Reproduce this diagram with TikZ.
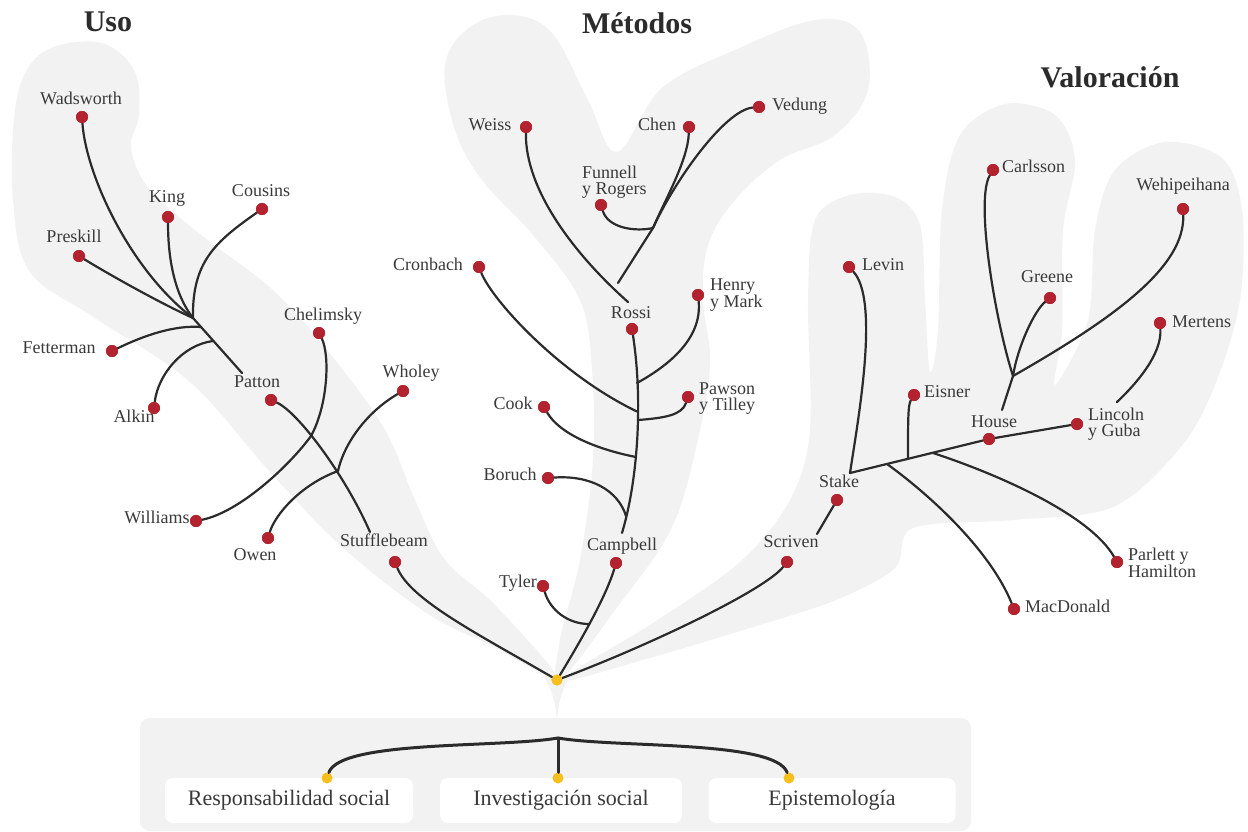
\documentclass[tikz,border=0pt]{standalone}
\usepackage{fontspec}
\setmainfont{Liberation Serif}
\definecolor{blobgray}{HTML}{F2F2F2}
\definecolor{ink}{HTML}{3A3A3A}
\definecolor{stem}{HTML}{2B2B2B}
\definecolor{berry}{HTML}{B3232F}
\definecolor{gold}{HTML}{F5C01E}
\newcommand\labf{\fontsize{18}{16}\selectfont}
\newcommand\basef{\fontsize{22}{24}\selectfont}
\newcommand\headf{\fontsize{30}{32}\selectfont\bfseries}
\begin{document}
\begin{tikzpicture}[x=1pt,y=-1pt,
  branch/.style={draw=stem, line width=2.2pt, line cap=round, line join=round},
  brace/.style={draw=stem, line width=3pt, line cap=round},
  leaf/.style={circle, fill=berry, inner sep=0pt, minimum size=12pt},
  seed/.style={circle, fill=gold, inner sep=0pt, minimum size=11pt},
  lab/.style={font=\labf, text=ink, inner sep=0pt, text height=1.5ex, text depth=.25ex},
  lab2/.style={font=\labf, text=ink, inner sep=0pt, align=left},
  head/.style={font=\headf, text=stem, inner sep=0pt},
  basebox/.style={fill=white, rounded corners=8pt, minimum height=45pt, font=\basef, text=ink, inner sep=0pt}
]
\useasboundingbox (0,0) rectangle (1248,832);
\fill[white] (0,0) rectangle (1248,832);

% ---------- background shapes ----------
% Uso
\fill[blobgray] plot[smooth cycle, tension=0.6] coordinates {
  (60,45) (105,44) (135,72) (139,115) (131,148) (150,190) (205,238) (275,292)
  (335,360) (385,430) (415,500) (445,560) (495,605) (557,678)
  (490,645) (425,612) (340,545) (270,472) (190,382) (95,318) (30,272)
  (13,200) (15,110) (30,65)};
% Metodos
\fill[blobgray] plot[smooth cycle, tension=0.6] coordinates {
  (445,65) (470,27) (512,15) (552,33) (588,100) (617,152) (662,88) (735,50)
  (815,20) (860,32) (868,90) (835,135) (780,160) (735,200) (708,245) (703,300)
  (710,360) (700,430) (672,527) (615,610) (560,680) (560,640) (580,560)
  (593,460) (592,370) (580,300) (533,235) (482,180) (455,130)};
% Valoracion
\fill[blobgray] plot[smooth cycle, tension=0.55] coordinates {
  (562,680) (653,623) (740,562) (790,500) (810,430) (808,300) (815,220)
  (850,195) (895,197) (920,225) (925,300) (930,372) (938,330) (942,210)
  (960,135) (1005,104) (1055,115) (1075,160) (1063,230) (1062,330) (1055,385)
  (1088,320) (1095,230) (1115,170) (1165,142) (1222,158) (1242,210) (1240,300)
  (1215,385) (1180,448) (1113,507) (1013,520) (913,528) (895,568) (836,600)
  (753,627) (653,657)};
% stem into the base panel
\fill[blobgray] (543,676) .. controls (553,690) and (556,705) .. (557,722)
  .. controls (558,705) and (561,690) .. (571,676) -- cycle;
% base panel
\fill[blobgray, rounded corners=10pt] (140,718) rectangle (971,831);

% ---------- base ----------
\node[basebox, minimum width=248pt] (rs) at (289,800.5) {Responsabilidad social};
\node[basebox, minimum width=242pt] (is) at (561,800.5) {Investigación social};
\node[basebox, minimum width=247pt] (ep) at (832,800.5) {Epistemología};
\coordinate (bt) at (558,738);
\node[seed] (yd1) at (327,778) {};
\node[seed] (yd2) at (558,778) {};
\node[seed] (yd3) at (789,778) {};
\draw[brace] (bt) .. controls (500,748) and (340,740) .. (yd1);
\draw[brace] (bt) .. controls (616,748) and (776,740) .. (yd3);
\draw[brace] (bt) -- (yd2);

% ---------- nodes ----------
\node[seed] (root) at (557,680) {};

% Uso
\node[leaf] (wads) at (82,117) {};
\node[leaf] (king) at (168,217) {};
\node[leaf] (cous) at (262,209) {};
\node[leaf] (pres) at (79,256) {};
\node[leaf] (fett) at (112,351) {};
\node[leaf] (alk) at (154,408) {};
\node[leaf] (chel) at (319,333) {};
\node[leaf] (pat) at (271,400) {};
\node[leaf] (who) at (403,391) {};
\node[leaf] (will) at (196,521) {};
\node[leaf] (owen) at (268,538) {};
\node[leaf] (stuf) at (395,562) {};
\coordinate (j1) at (193,318);
\coordinate (uEnd) at (242,373);
\coordinate (j2) at (201,327);
\coordinate (j3) at (213,341);
\coordinate (cw) at (311,436);
\coordinate (pEnd) at (370,532);
\coordinate (wj) at (338,471);

% Metodos
\node[leaf] (weiss) at (526,127) {};
\node[leaf] (chen) at (689,127) {};
\node[leaf] (ved) at (759,107) {};
\node[leaf] (fun) at (601,205) {};
\node[leaf] (cron) at (479,267) {};
\node[leaf] (henry) at (698,295) {};
\node[leaf] (rossi) at (632,329) {};
\node[leaf] (paw) at (688,397) {};
\node[leaf] (cook) at (544,407) {};
\node[leaf] (bor) at (548,478) {};
\node[leaf] (camp) at (616,563) {};
\node[leaf] (tyl) at (543,586) {};
\coordinate (wEnd) at (628,302);
\coordinate (fj) at (653,228);
\coordinate (cEnd) at (618,283);
\coordinate (mEnd) at (622,533);
\coordinate (hj) at (637,383);
\coordinate (cj) at (638,412);
\coordinate (pj) at (638,420);
\coordinate (kj) at (636,457);
\coordinate (bj) at (626,516);
\coordinate (tj) at (589,624);

% Valoracion
\node[leaf] (levin) at (849,267) {};
\node[leaf] (carl) at (993,170) {};
\node[leaf] (wehi) at (1183,209) {};
\node[leaf] (greene) at (1050,298) {};
\node[leaf] (mert) at (1160,323) {};
\node[leaf] (eis) at (914,395) {};
\node[leaf] (house) at (989,439) {};
\node[leaf] (linc) at (1077,424) {};
\node[leaf] (stake) at (837,500) {};
\node[leaf] (scri) at (787,562) {};
\node[leaf] (parl) at (1117,562) {};
\node[leaf] (macd) at (1014,609) {};
\coordinate (sEnd) at (817,534);
\coordinate (st0) at (850,473);
\coordinate (mj) at (887,464);
\coordinate (ej) at (908,459);
\coordinate (pj2) at (933,453);
\coordinate (hs0) at (1002,410);
\coordinate (hj2) at (1013,376);
\coordinate (mtEnd) at (1117,402);

% ---------- branches ----------
\begin{scope}[on background layer/.style={}]
% Uso
\draw[branch] (wads) .. controls (86,175) and (130,270) .. (j1) -- (uEnd);
\draw[branch] (king) .. controls (168,260) and (175,295) .. (j1);
\draw[branch] (pres) .. controls (110,275) and (160,303) .. (j1);
\draw[branch] (cous) .. controls (215,242) and (192,262) .. (j1);
\draw[branch] (fett) .. controls (145,335) and (175,325) .. (j2);
\draw[branch] (alk) .. controls (158,375) and (182,345) .. (j3);
\draw[branch] (pat) .. controls (298,412) and (345,475) .. (pEnd);
\draw[branch] (chel) .. controls (330,355) and (328,405) .. (cw)
  .. controls (290,465) and (240,512) .. (will);
\draw[branch] (who) .. controls (370,410) and (345,440) .. (wj);
\draw[branch] (wj) .. controls (300,485) and (275,515) .. (owen);
\draw[branch] (stuf) .. controls (410,600) and (480,635) .. (root);
% Metodos
\draw[branch] (camp) .. controls (605,600) and (575,650) .. (root);
\draw[branch] (tyl) .. controls (550,610) and (568,624) .. (tj);
\draw[branch] (root) .. controls (650,645) and (765,590) .. (scri);
\draw[branch] (rossi) .. controls (643,400) and (638,480) .. (mEnd);
\draw[branch] (henry) .. controls (702,335) and (675,362) .. (hj);
\draw[branch] (cron) .. controls (492,300) and (560,375) .. (cj);
\draw[branch] (paw) .. controls (682,415) and (665,418) .. (pj);
\draw[branch] (cook) .. controls (560,435) and (600,450) .. (kj);
\draw[branch] (bor) .. controls (590,475) and (618,490) .. (bj);
\draw[branch] (weiss) .. controls (525,190) and (575,255) .. (wEnd);
\draw[branch] (chen) .. controls (688,160) and (665,200) .. (fj);
\draw[branch] (ved) .. controls (725,110) and (675,180) .. (fj) -- (cEnd);
\draw[branch] (fun) .. controls (608,228) and (635,232) .. (fj);
% Valoracion
\draw[branch] (stake) -- (sEnd);
\draw[branch] (levin) .. controls (880,300) and (858,420) .. (st0) -- (house) -- (linc);
\draw[branch] (eis) .. controls (908,405) and (908,420) .. (ej);
\draw[branch] (mj) .. controls (930,495) and (990,550) .. (macd);
\draw[branch] (pj2) .. controls (1000,475) and (1090,515) .. (parl);
\draw[branch] (hs0) -- (hj2);
\draw[branch] (carl) .. controls (975,200) and (995,320) .. (hj2);
\draw[branch] (greene) .. controls (1035,310) and (1018,345) .. (hj2);
\draw[branch] (wehi) .. controls (1185,265) and (1120,315) .. (hj2);
\draw[branch] (mert) .. controls (1162,355) and (1135,385) .. (mtEnd);
\end{scope}

% dots redrawn on top of the branches
\foreach \n/\p in {wads/{82,117},king/{168,217},cous/{262,209},pres/{79,256},
  fett/{112,351},alk/{154,408},chel/{319,333},pat/{271,400},who/{403,391},
  will/{196,521},owen/{268,538},stuf/{395,562},weiss/{526,127},chen/{689,127},
  ved/{759,107},fun/{601,205},cron/{479,267},henry/{698,295},rossi/{632,329},
  paw/{688,397},cook/{544,407},bor/{548,478},camp/{616,563},tyl/{543,586},
  levin/{849,267},carl/{993,170},wehi/{1183,209},greene/{1050,298},
  mert/{1160,323},eis/{914,395},house/{989,439},linc/{1077,424},
  stake/{837,500},scri/{787,562},parl/{1117,562},macd/{1014,609}}
  \fill[berry] (\p) circle (6pt);
\fill[gold] (557,680) circle (5.5pt);

% ---------- labels ----------
\node[head] (uso) at (108,22) {Uso};
\node[head] (met) at (637,23) {Métodos};
\node[head] (val) at (1110,77) {Valoración};

\node[lab] (wadsL) at (81,102) {Wadsworth};
\node[lab] (kingL) at (167,200) {King};
\node[lab] (cousL) at (261,194) {Cousins};
\node[lab] (presL) at (74,240) {Preskill};
\node[lab] (fettL) at (59,351) {Fetterman};
\node[lab] (alkL) at (134,420) {Alkin};
\node[lab] (chelL) at (323,318) {Chelimsky};
\node[lab] (patL) at (257,385) {Patton};
\node[lab] (whoL) at (411,375) {Wholey};
\node[lab] (willL) at (157,521) {Williams};
\node[lab] (owenL) at (255,558) {Owen};
\node[lab] (stufL) at (384,544) {Stufflebeam};

\node[lab] (weissL) at (490,128) {Weiss};
\node[lab] (chenL) at (657,128) {Chen};
\node[lab, anchor=west] (vedL) at (772,108) {Vedung};
\node[lab2, anchor=west] (funL) at (582,182) {Funnell\\y Rogers};
\node[lab] (cronL) at (428,268) {Cronbach};
\node[lab2, anchor=west] (henryL) at (710,295) {Henry\\y Mark};
\node[lab] (rossiL) at (631,316) {Rossi};
\node[lab2, anchor=west] (pawL) at (699,399) {Pawson\\y Tilley};
\node[lab] (cookL) at (513,407) {Cook};
\node[lab] (borL) at (510,478) {Boruch};
\node[lab] (campL) at (622,548) {Campbell};
\node[lab] (tylL) at (518,585) {Tyler};

\node[lab, anchor=west] (levinL) at (862,268) {Levin};
\node[lab, anchor=west] (carlL) at (1002,170) {Carlsson};
\node[lab] (wehiL) at (1183,188) {Wehipeihana};
\node[lab] (greeneL) at (1047,280) {Greene};
\node[lab, anchor=west] (mertL) at (1172,325) {Mertens};
\node[lab, anchor=west] (eisL) at (924,395) {Eisner};
\node[lab] (houseL) at (994,425) {House};
\node[lab2, anchor=west] (lincL) at (1088,424) {Lincoln\\y Guba};
\node[lab] (stakeL) at (839,485) {Stake};
\node[lab] (scriL) at (791,545) {Scriven};
\node[lab2, anchor=west] (parlL) at (1128,563) {Parlett y\\Hamilton};
\node[lab, anchor=west] (macdL) at (1025,610) {MacDonald};
\end{tikzpicture}
\end{document}
